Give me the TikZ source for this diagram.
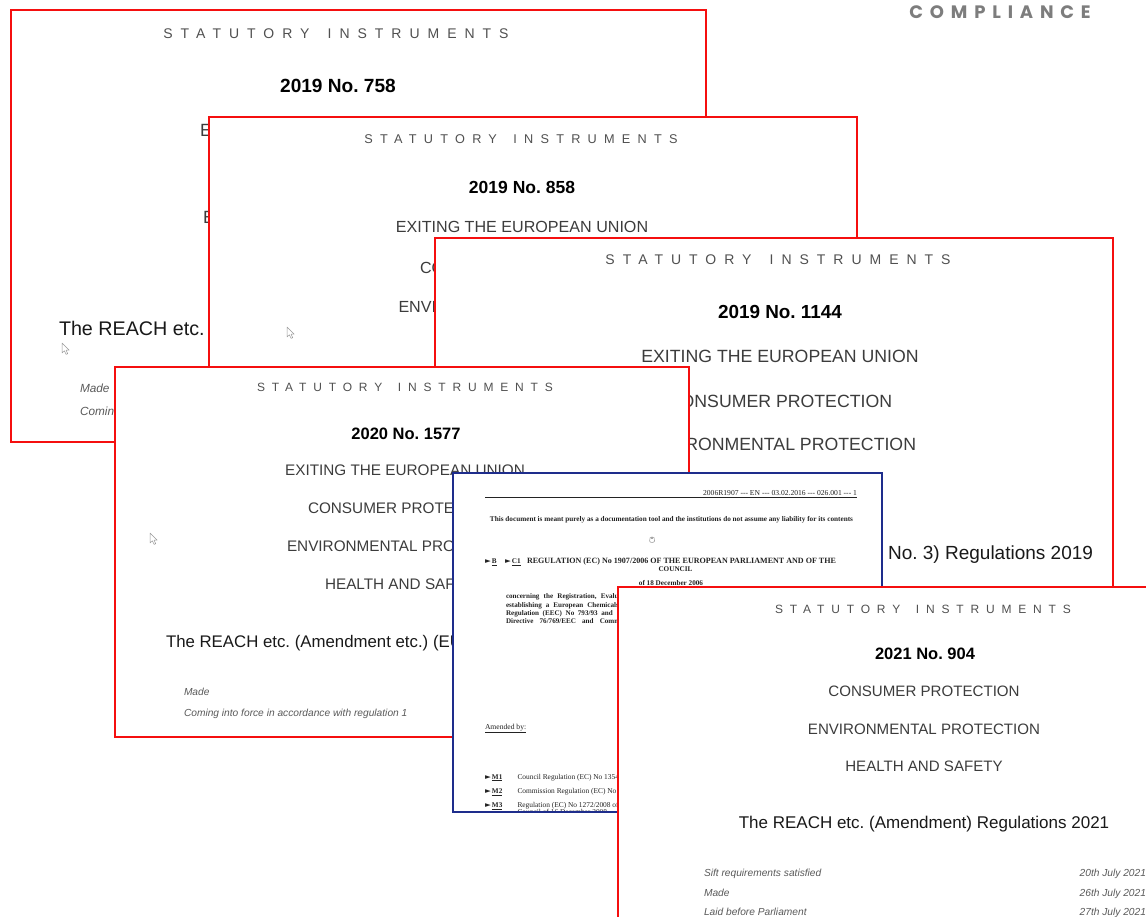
\documentclass[tikz,border=0pt]{standalone}
\usepackage{fontspec}
\setmainfont{Liberation Sans}
\newfontfamily\serifdoc{Liberation Serif}
\newfontfamily\compfont{Poppins}
\newfontfamily\dejavu{DejaVu Sans}
\frenchspacing
\newcommand\fsz[1]{\fontsize{#1}{#1}\selectfont}
\newcommand\SIfont[1]{\fsz{#1}\addfontfeature{LetterSpace=57}}
\newcommand\SItext{STATUTORY\hspace{0.45em} INSTRUMENTS}
\newcommand\tri{{\dejavu\fontsize{7.5}{7.5}\selectfont ►}}
\newcommand\wsp[1]{\spaceskip=#1pt plus 0pt minus 0pt\relax}
\definecolor{cred}{RGB}{245,15,15}
\definecolor{cblue}{RGB}{30,45,140}
\definecolor{sigray}{RGB}{80,80,80}
\definecolor{hgray}{RGB}{60,60,60}
\definecolor{igray}{RGB}{90,90,90}
\definecolor{eutext}{RGB}{35,35,35}
\definecolor{compgray}{RGB}{125,125,125}
\begin{document}
\begin{tikzpicture}[x=1pt,y=-1pt,
  every node/.style={inner sep=0pt,outer sep=0pt,anchor=base},
  card/.style={draw=cred,fill=white,line width=1.3pt},
  eucard/.style={draw=cblue,fill=white,line width=1.4pt},
  sitx/.style={text=sigray},
  headtx/.style={text=hgray},
  numtx/.style={text=black},
  titx/.style={text=black!90},
  itx/.style={text=igray},
  eutx/.style={text=eutext},
  eurule/.style={draw=eutext,line width=1pt},
  mouseptr/.pic={\draw[gray!80,fill=white,line width=0.5pt,line join=round]
      (0,0) -- (0,10) -- (2.4,7.8) -- (4.1,11.4) -- (5.7,10.7) -- (4.1,7.2) -- (7.2,7.2) -- cycle;},
  handicon/.pic={\draw[gray!70,line width=0.6pt] (-2.5,1) .. controls (-3,-2) and (-1,-3.5) .. (0,-3)
      .. controls (1.5,-3.5) and (3,-2) .. (2.6,1) .. controls (2,3) and (-2,3) .. (-2.5,1);
      \draw[gray!70,line width=0.5pt] (-1,-3) -- (-1,-1) (0.5,-3.2) -- (0.5,-1);}
]
\useasboundingbox (0,0) rectangle (1146,917);
\clip (0,0) rectangle (1146,917);
\fill[white] (0,0) rectangle (1146,917);

% ---------- card 1 : 2019 No. 758
\draw[card] (11,10) rectangle (706,442);
\node[sitx,font=\SIfont{14}] (c1si) at (336,39) {\SItext};
\node[numtx,font=\bfseries\fsz{19.1}] (c1no) at (338,93) {2019 No. 758};
\node[headtx,anchor=base west,font=\fsz{17.7}] (c1h1) at (200,136.4) {E};
\node[headtx,anchor=base west,font=\fsz{17.7}] (c1h3) at (203,223.4) {E};
\node[titx,anchor=base west,font=\fsz{19.7}] (c1t) at (59,335) {The REACH etc.};
\node[itx,anchor=base west,font=\itshape\fsz{11.8}] (c1m) at (80,392) {Made};
\node[itx,anchor=base west,font=\itshape\fsz{11.8}] (c1c) at (80,415) {Coming};
\pic at (62,343) {mouseptr};

% ---------- card 2 : 2019 No. 858
\draw[card] (209,117) rectangle (857,520);
\node[sitx,font=\SIfont{12.7}] (c2si) at (521,143.6) {\SItext};
\node[numtx,font=\bfseries\fsz{17.5}] (c2no) at (522,193.3) {2019 No. 858};
\node[headtx,font=\fsz{16.1}] (c2h1) at (522,232.8) {EXITING THE EUROPEAN UNION};
\node[headtx,anchor=base west,font=\fsz{16.1}] (c2h2) at (420,273.8) {CON};
\node[headtx,anchor=base west,font=\fsz{16.1}] (c2h3) at (398.5,312.8) {ENVIR};
\pic at (287,327) {mouseptr};

% ---------- card 3 : 2019 No. 1144
\draw[card] (435,238) rectangle (1113,660);
\node[sitx,font=\SIfont{14}] (c3si) at (778,265) {\SItext};
\node[numtx,font=\bfseries\fsz{18.9}] (c3no) at (780,318.8) {2019 No. 1144};
\node[headtx,font=\fsz{17.7}] (c3h1) at (780,362.4) {EXITING THE EUROPEAN UNION};
\node[headtx,font=\fsz{17.7}] (c3h2) at (780,407.4) {CONSUMER PROTECTION};
\node[headtx,font=\fsz{17.7}] (c3h3) at (780,450.4) {ENVIRONMENTAL PROTECTION};
\node[titx,anchor=base east,font=\fsz{19}] (c3t) at (1093,559.8) {No. 3) Regulations 2019};

% ---------- card 4 : 2020 No. 1577
\draw[card] (115,367) rectangle (689,737);
\node[sitx,font=\SIfont{12}] (c4si) at (405,391.3) {\SItext};
\node[numtx,font=\bfseries\fsz{16.5}] (c4no) at (406,439) {2020 No. 1577};
\node[headtx,font=\fsz{15.3}] (c4h1) at (405,475.5) {EXITING THE EUROPEAN UNION};
\node[headtx,anchor=base west,font=\fsz{15.3}] (c4h2) at (308,513.5) {CONSUMER PROTEC};
\node[headtx,anchor=base west,font=\fsz{15.3}] (c4h3) at (287,551.5) {ENVIRONMENTAL PROT};
\node[headtx,anchor=base west,font=\fsz{15.3}] (c4h4) at (325,589.5) {HEALTH AND SAFE};
\node[titx,anchor=base west,font=\fsz{16.8}] (c4t) at (166,647) {The REACH etc. (Amendment etc.) (EU};
\node[itx,anchor=base west,font=\itshape\fsz{10.2}] (c4m) at (184,695.7) {Made};
\node[itx,anchor=base west,font=\itshape\fsz{10.2}] (c4c) at (184,716.7) {Coming into force in accordance with regulation 1};
\pic at (150,533) {mouseptr};

% ---------- card 5 : EU regulation 1907/2006
\draw[eucard] (453,473) rectangle (882,812);
\begin{scope}
\clip (454,474) rectangle (881,811.3);
\node[eutx,anchor=base east,font=\serifdoc\fsz{7.6}] (euhdr) at (857,495) {2006R1907 --- EN --- 03.02.2016 --- 026.001 --- 1};
\draw[eurule] (485,497.8) -- (857,497.8);
\node[eutx,font=\serifdoc\bfseries\fsz{6.8}] (eudisc) at (671.5,521.3) {\resizebox{363pt}{!}{This document is meant purely as a documentation tool and the institutions do not assume any liability for its contents}};
\pic at (652,540) {handicon};
\node[eutx,anchor=base west,font=\serifdoc\bfseries\fsz{7.2}] (eub) at (485,563.6) {\tri\,\underline{B}};
\node[eutx,anchor=base west,font=\serifdoc\bfseries\fsz{7.2}] (euc1) at (505,563.6) {\tri\,\underline{C1}};
\node[eutx,anchor=base west,font=\serifdoc\bfseries\fsz{7.2}] (eureg) at (527,563.6) {\resizebox{309pt}{!}{REGULATION (EC) No 1907/2006 OF THE EUROPEAN PARLIAMENT AND OF THE}};
\node[eutx,font=\serifdoc\bfseries\fsz{7.2}] (eucou) at (675.5,571.6) {COUNCIL};
\node[eutx,font=\serifdoc\bfseries\fsz{7.2}] (eudate) at (671,585) {of 18 December 2006};
\node[eutx,anchor=base west,font=\serifdoc\bfseries\fsz{7.1}] (eup1) at (506,598.6) {\wsp{4.2}concerning the Registration, Evaluation,};
\node[eutx,anchor=base west,font=\serifdoc\bfseries\fsz{7.1}] (eup2) at (506,607.1) {\wsp{4.0}establishing a European Chemicals};
\node[eutx,anchor=base west,font=\serifdoc\bfseries\fsz{7.1}] (eup3) at (506,615.2) {\wsp{3.6}Regulation (EEC) No 793/93 and};
\node[eutx,anchor=base west,font=\serifdoc\bfseries\fsz{7.1}] (eup4) at (506,623.5) {\wsp{6.2}Directive 76/769/EEC and Commission};
\node[eutx,anchor=base west,font=\serifdoc\fsz{7.6}] (euam) at (485,729) {\underline{Amended by:}};
\node[eutx,anchor=base west,font=\serifdoc\bfseries\fsz{7.2}] (eum1) at (485,779.2) {\tri\,\underline{M1}};
\node[eutx,anchor=base west,font=\serifdoc\fsz{7.4}] (eum1t) at (517.5,779.2) {Council Regulation (EC) No 1354/2007};
\node[eutx,anchor=base west,font=\serifdoc\bfseries\fsz{7.2}] (eum2) at (485,793.5) {\tri\,\underline{M2}};
\node[eutx,anchor=base west,font=\serifdoc\fsz{7.4}] (eum2t) at (517.5,793.5) {Commission Regulation (EC) No 987/2008};
\node[eutx,anchor=base west,font=\serifdoc\bfseries\fsz{7.2}] (eum3) at (485,807.5) {\tri\,\underline{M3}};
\node[eutx,anchor=base west,font=\serifdoc\fsz{7.4}] (eum3t) at (517.5,807.5) {Regulation (EC) No 1272/2008 of the};
\node[eutx,anchor=base west,font=\serifdoc\fsz{7.4}] (eum3u) at (517.5,814) {Council of 16 December 2008};
\end{scope}
\draw[cblue,line width=1.4pt] (453,473) rectangle (882,812);

% ---------- card 6 : 2021 No. 904
\draw[card] (618,587) rectangle (1160,930);
\node[sitx,font=\SIfont{12}] (c6si) at (923,613.3) {\SItext};
\node[numtx,font=\bfseries\fsz{16.5}] (c6no) at (925,659) {2021 No. 904};
\node[headtx,font=\fsz{15.1}] (c6h1) at (924,696.4) {CONSUMER PROTECTION};
\node[headtx,font=\fsz{15.1}] (c6h2) at (924,734.4) {ENVIRONMENTAL PROTECTION};
\node[headtx,font=\fsz{15.1}] (c6h3) at (924,771.4) {HEALTH AND SAFETY};
\node[titx,font=\fsz{17}] (c6t) at (924,828) {The REACH etc. (Amendment) Regulations 2021};
\node[itx,anchor=base west,font=\itshape\fsz{10.2}] (c6r1) at (704,876.7) {Sift requirements satisfied};
\node[itx,anchor=base west,font=\itshape\fsz{10.2}] (c6r2) at (704,896.7) {Made};
\node[itx,anchor=base west,font=\itshape\fsz{10.2}] (c6r3) at (704,915.7) {Laid before Parliament};
\node[itx,anchor=base east,font=\itshape\fsz{10.2}] (c6d1) at (1146,876.7) {20th July 2021};
\node[itx,anchor=base east,font=\itshape\fsz{10.2}] (c6d2) at (1146,896.7) {26th July 2021};
\node[itx,anchor=base east,font=\itshape\fsz{10.2}] (c6d3) at (1146,915.7) {27th July 2021};

% ---------- brand text
\node[text=compgray,font=\compfont\bfseries\fsz{18}\addfontfeature{LetterSpace=38}] (brand) at (1000,18.5) {COMPLIANCE};
\end{tikzpicture}
\end{document}
